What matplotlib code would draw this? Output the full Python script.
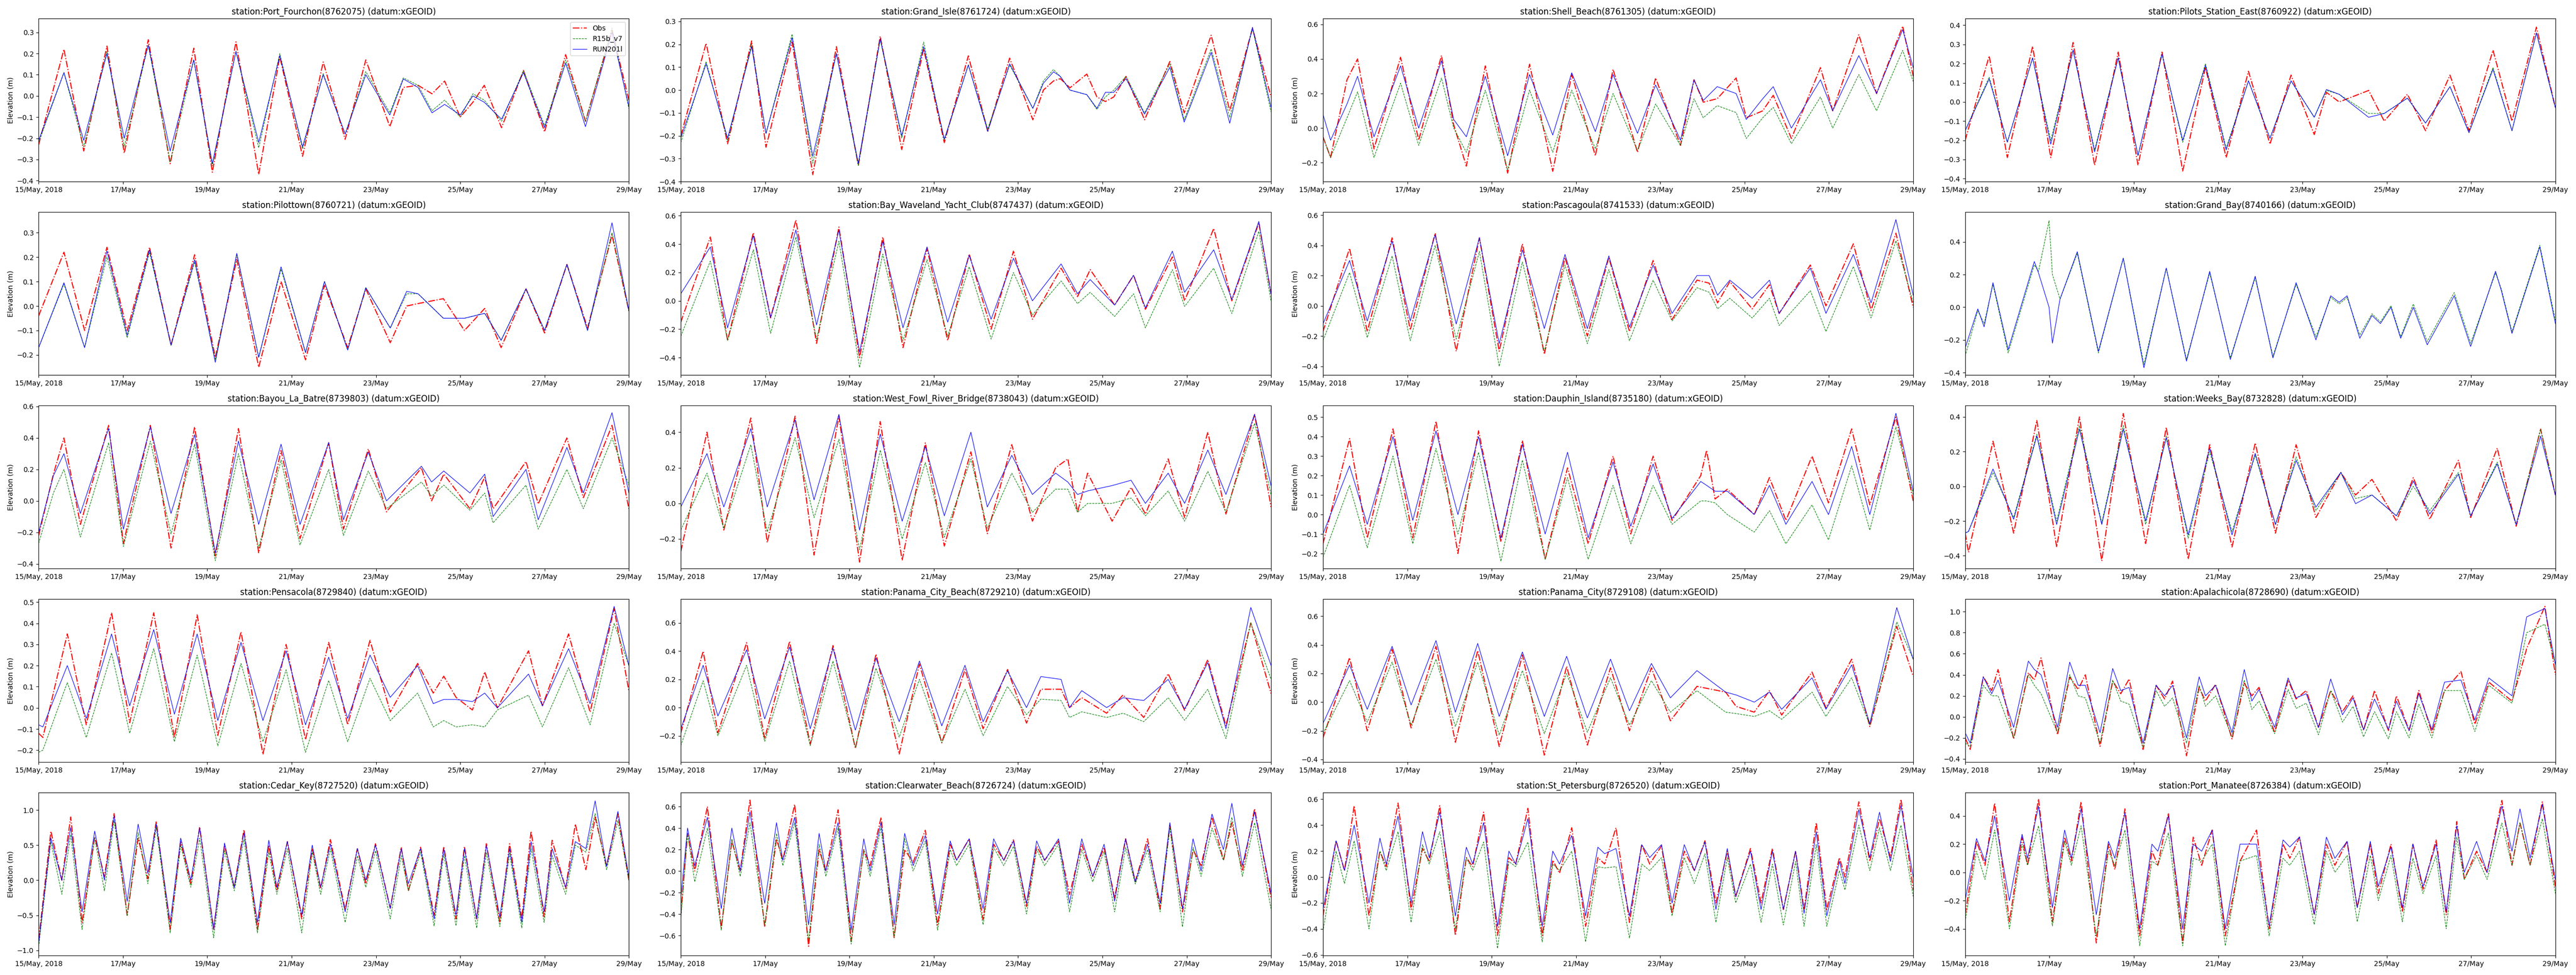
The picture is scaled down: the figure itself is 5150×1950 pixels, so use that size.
import numpy as np
import matplotlib
matplotlib.use('Agg')
import matplotlib.pyplot as plt
from matplotlib.ticker import MultipleLocator

# times in days after 15/May/2018 00:00, values in m
t_port_fourchon = [0, 0.6, 1.07, 1.62, 2.03, 2.6, 3.12, 3.68, 4.12, 4.68, 5.22, 5.72, 6.26, 6.75, 7.27, 7.76, 8.33, 8.65, 9.0, 9.33, 9.63, 10.0, 10.3, 10.57, 10.98, 11.5, 12.0, 12.5, 12.97, 13.6, 14.0]
obs_port_fourchon = [-0.23, 0.22, -0.26, 0.235, -0.27, 0.265, -0.32, 0.225, -0.36, 0.255, -0.37, 0.185, -0.285, 0.16, -0.205, 0.17, -0.145, 0.04, 0.05, 0.01, 0.07, -0.10, -0.03, 0.05, -0.15, 0.12, -0.17, 0.195, -0.12, 0.31, -0.02]
r15_port_fourchon = [-0.22, 0.11, -0.24, 0.21, -0.24, 0.24, -0.31, 0.17, -0.33, 0.21, -0.245, 0.20, -0.25, 0.105, -0.18, 0.115, -0.08, 0.085, 0.05, -0.07, -0.02, -0.10, 0.01, -0.02, -0.12, 0.12, -0.14, 0.17, -0.12, 0.32, -0.06]
run_port_fourchon = [-0.21, 0.11, -0.21, 0.20, -0.20, 0.24, -0.26, 0.17, -0.32, 0.21, -0.22, 0.19, -0.24, 0.10, -0.18, 0.10, -0.09, 0.08, 0.04, -0.08, -0.04, -0.09, 0.0, -0.03, -0.11, 0.11, -0.15, 0.155, -0.145, 0.30, -0.05]

t_grand_isle = [0, 0.6, 1.11, 1.68, 2.02, 2.64, 3.13, 3.69, 4.21, 4.73, 5.24, 5.76, 6.25, 6.82, 7.28, 7.8, 8.35, 8.6, 8.84, 9.0, 9.23, 9.63, 9.87, 10.07, 10.27, 10.56, 11.0, 11.6, 11.94, 12.58, 13.02, 13.56, 14.0]
obs_grand_isle = [-0.20, 0.205, -0.235, 0.215, -0.25, 0.21, -0.37, 0.19, -0.33, 0.235, -0.26, 0.18, -0.23, 0.15, -0.18, 0.14, -0.13, 0.0, 0.04, 0.05, 0.01, 0.07, -0.03, -0.05, -0.03, 0.06, -0.13, 0.125, -0.10, 0.24, -0.09, 0.27, -0.03]
r15_grand_isle = [-0.23, 0.125, -0.22, 0.20, -0.19, 0.245, -0.32, 0.16, -0.33, 0.22, -0.21, 0.21, -0.22, 0.11, -0.17, 0.11, -0.08, 0.04, 0.09, 0.06, 0.0, -0.02, -0.085, -0.03, 0.0, 0.06, -0.10, 0.115, -0.13, 0.18, -0.12, 0.27, -0.095]
run_grand_isle = [-0.21, 0.115, -0.21, 0.19, -0.19, 0.23, -0.29, 0.16, -0.32, 0.225, -0.20, 0.19, -0.215, 0.11, -0.18, 0.115, -0.08, 0.03, 0.08, 0.06, 0.0, -0.02, -0.08, -0.01, -0.01, 0.05, -0.105, 0.10, -0.14, 0.165, -0.145, 0.275, -0.075]

t_shell_beach = [0, 0.18, 0.57, 0.82, 1.21, 1.84, 2.27, 2.81, 3.1, 3.4, 3.85, 4.38, 4.9, 5.45, 5.9, 6.46, 6.88, 7.46, 7.89, 8.48, 8.8, 9.02, 9.35, 9.8, 10.04, 10.43, 10.68, 11.11, 11.8, 12.09, 12.71, 13.13, 13.75, 14.0]
obs_shell_beach = [-0.05, -0.17, 0.28, 0.40, -0.12, 0.41, -0.07, 0.42, 0.02, -0.22, 0.36, -0.26, 0.37, -0.25, 0.31, -0.16, 0.34, -0.14, 0.29, -0.10, 0.28, 0.15, 0.17, 0.29, 0.06, 0.10, 0.19, -0.06, 0.35, 0.10, 0.54, 0.20, 0.59, 0.30]
r15_shell_beach = [-0.05, -0.17, 0.06, 0.21, -0.17, 0.26, -0.10, 0.29, 0.0, -0.14, 0.22, -0.24, 0.22, -0.14, 0.22, -0.12, 0.20, -0.13, 0.14, -0.10, 0.17, 0.06, 0.13, 0.09, -0.06, 0.06, 0.12, -0.09, 0.18, 0.0, 0.31, 0.10, 0.45, 0.27]
run_shell_beach = [0.08, -0.07, 0.14, 0.30, -0.05, 0.36, 0.0, 0.39, 0.05, -0.05, 0.30, -0.16, 0.31, -0.04, 0.32, -0.02, 0.31, -0.03, 0.25, -0.07, 0.28, 0.16, 0.24, 0.20, 0.05, 0.17, 0.24, 0.0, 0.28, 0.10, 0.42, 0.20, 0.57, 0.35]

t_pilots_east = [0, 0.57, 1.0, 1.6, 2.03, 2.56, 3.07, 3.63, 4.1, 4.67, 5.16, 5.7, 6.19, 6.72, 7.23, 7.73, 8.28, 8.57, 8.87, 9.57, 9.94, 10.49, 10.92, 11.5, 11.95, 12.52, 12.97, 13.55, 14.0]
obs_pilots_east = [-0.20, 0.24, -0.29, 0.29, -0.29, 0.31, -0.33, 0.26, -0.33, 0.26, -0.36, 0.18, -0.29, 0.16, -0.22, 0.14, -0.17, 0.05, 0.0, 0.06, -0.10, 0.04, -0.15, 0.14, -0.15, 0.27, -0.10, 0.39, -0.03]
r15_pilots_east = [-0.15, 0.13, -0.21, 0.23, -0.20, 0.27, -0.25, 0.23, -0.28, 0.25, -0.21, 0.20, -0.24, 0.11, -0.19, 0.11, -0.08, 0.06, 0.04, -0.06, -0.06, 0.02, -0.11, 0.08, -0.16, 0.18, -0.15, 0.36, -0.03]
run_pilots_east = [-0.15, 0.12, -0.21, 0.23, -0.22, 0.27, -0.26, 0.23, -0.28, 0.25, -0.20, 0.19, -0.25, 0.11, -0.19, 0.11, -0.08, 0.065, 0.04, -0.08, -0.06, 0.02, -0.11, 0.08, -0.16, 0.17, -0.15, 0.36, -0.03]

t_pilottown = [0, 0.6, 1.09, 1.62, 2.1, 2.63, 3.14, 3.7, 4.19, 4.7, 5.22, 5.75, 6.33, 6.78, 7.33, 7.76, 8.34, 8.73, 9.0, 9.6, 10.1, 10.58, 10.97, 11.56, 12.0, 12.53, 13.02, 13.6, 14.0]
obs_pilottown = [-0.04, 0.22, -0.10, 0.24, -0.10, 0.24, -0.16, 0.21, -0.21, 0.19, -0.25, 0.10, -0.22, 0.085, -0.17, 0.07, -0.15, 0.0, 0.01, 0.03, -0.10, -0.01, -0.17, 0.07, -0.11, 0.17, -0.09, 0.29, -0.02]
r15_pilottown = [-0.17, 0.09, -0.17, 0.20, -0.13, 0.22, -0.16, 0.18, -0.22, 0.21, -0.21, 0.15, -0.19, 0.10, -0.18, 0.075, -0.09, 0.05, 0.05, -0.05, -0.05, -0.03, -0.14, 0.07, -0.10, 0.17, -0.10, 0.30, -0.02]
run_pilottown = [-0.17, 0.095, -0.17, 0.225, -0.12, 0.23, -0.16, 0.19, -0.23, 0.215, -0.21, 0.16, -0.19, 0.10, -0.18, 0.075, -0.09, 0.06, 0.05, -0.05, -0.05, -0.03, -0.14, 0.07, -0.10, 0.17, -0.10, 0.34, -0.02]

t_bay_waveland = [0, 0.7, 1.11, 1.72, 2.13, 2.73, 3.22, 3.75, 4.24, 4.79, 5.27, 5.84, 6.33, 6.84, 7.36, 7.89, 8.34, 9.02, 9.41, 9.71, 10.29, 10.74, 11.02, 11.66, 11.95, 12.64, 13.07, 13.71, 14.0]
obs_bay_waveland = [-0.15, 0.45, -0.28, 0.48, -0.12, 0.57, -0.30, 0.52, -0.40, 0.45, -0.33, 0.37, -0.28, 0.33, -0.20, 0.35, -0.13, 0.23, 0.03, 0.22, -0.03, 0.18, -0.06, 0.31, 0.0, 0.51, 0.0, 0.55, 0.05]
r15_bay_waveland = [-0.25, 0.28, -0.28, 0.36, -0.23, 0.45, -0.27, 0.42, -0.47, 0.33, -0.28, 0.29, -0.25, 0.24, -0.27, 0.20, -0.10, 0.14, -0.02, 0.06, -0.11, 0.05, -0.19, 0.22, -0.04, 0.23, -0.09, 0.49, 0.0]
run_bay_waveland = [0.05, 0.38, -0.19, 0.46, -0.12, 0.50, -0.17, 0.50, -0.36, 0.42, -0.19, 0.38, -0.15, 0.32, -0.13, 0.30, 0.0, 0.26, 0.05, 0.15, -0.03, 0.18, -0.05, 0.35, 0.06, 0.36, 0.01, 0.56, 0.05]

t_pascagoula = [0, 0.63, 1.05, 1.64, 2.07, 2.66, 3.16, 3.71, 4.18, 4.73, 5.25, 5.74, 6.27, 6.78, 7.27, 7.83, 8.28, 8.87, 9.16, 9.36, 9.65, 10.18, 10.59, 10.82, 11.56, 11.93, 12.58, 13.0, 13.59, 14.0]
obs_pascagoula = [-0.17, 0.38, -0.17, 0.45, -0.16, 0.48, -0.30, 0.45, -0.30, 0.41, -0.32, 0.32, -0.20, 0.32, -0.17, 0.30, -0.09, 0.17, 0.15, 0.02, 0.16, -0.02, 0.14, -0.05, 0.27, 0.0, 0.41, -0.03, 0.48, -0.01]
r15_pascagoula = [-0.23, 0.22, -0.21, 0.33, -0.23, 0.40, -0.22, 0.36, -0.40, 0.29, -0.30, 0.27, -0.25, 0.24, -0.23, 0.17, -0.10, 0.12, 0.09, -0.02, 0.05, -0.08, 0.05, -0.13, 0.10, -0.17, 0.26, -0.08, 0.43, 0.02]
run_pascagoula = [-0.12, 0.30, -0.10, 0.43, -0.10, 0.47, -0.12, 0.45, -0.25, 0.37, -0.15, 0.34, -0.15, 0.33, -0.14, 0.27, -0.05, 0.20, 0.20, 0.07, 0.17, 0.05, 0.17, -0.05, 0.25, -0.05, 0.34, 0.02, 0.57, 0.07]

# no observations at Grand_Bay
t_grand_bay = [0, 0.3, 0.45, 0.66, 1.02, 1.64, 1.74, 1.99, 2.07, 2.25, 2.66, 3.16, 3.75, 4.24, 4.77, 5.25, 5.8, 6.29, 6.88, 7.3, 7.85, 8.32, 8.67, 8.87, 9.06, 9.36, 9.65, 9.85, 10.1, 10.33, 10.63, 10.96, 11.6, 11.99, 12.58, 12.72, 12.97, 13.63, 14.0]
r15_grand_bay = [-0.30, -0.02, -0.10, 0.14, -0.28, 0.26, 0.22, 0.53, 0.20, 0.05, 0.33, -0.28, 0.30, -0.35, 0.24, -0.32, 0.21, -0.31, 0.18, -0.30, 0.14, -0.18, 0.06, 0.02, 0.06, -0.17, -0.04, -0.09, 0.01, -0.18, 0.02, -0.21, 0.09, -0.22, 0.21, 0.11, -0.15, 0.38, -0.08]
run_grand_bay = [-0.25, -0.01, -0.12, 0.15, -0.26, 0.28, 0.21, 0.0, -0.22, 0.05, 0.34, -0.27, 0.30, -0.37, 0.24, -0.33, 0.22, -0.32, 0.19, -0.31, 0.15, -0.20, 0.07, 0.03, 0.07, -0.19, -0.05, -0.10, 0.0, -0.19, 0.0, -0.23, 0.07, -0.24, 0.22, 0.10, -0.16, 0.37, -0.10]

t_bayou = [0, 0.35, 0.6, 0.99, 1.66, 2.01, 2.65, 3.14, 3.7, 4.19, 4.74, 5.22, 5.75, 6.2, 6.88, 7.23, 7.82, 8.25, 9.08, 9.32, 9.61, 10.23, 10.58, 10.78, 11.56, 11.85, 12.53, 12.92, 13.6, 14.0]
obs_bayou = [-0.22, 0.17, 0.40, -0.15, 0.48, -0.27, 0.48, -0.30, 0.47, -0.35, 0.46, -0.33, 0.32, -0.24, 0.37, -0.18, 0.33, -0.07, 0.21, 0.0, 0.17, -0.05, 0.15, -0.05, 0.25, -0.02, 0.40, 0.02, 0.48, -0.05]
r15_bayou = [-0.27, 0.05, 0.20, -0.23, 0.37, -0.29, 0.38, -0.21, 0.36, -0.38, 0.30, -0.30, 0.26, -0.28, 0.20, -0.22, 0.19, -0.05, 0.12, 0.03, 0.10, -0.06, 0.05, -0.14, 0.10, -0.18, 0.20, -0.05, 0.40, 0.10]
run_bayou = [-0.20, 0.16, 0.30, -0.08, 0.46, -0.18, 0.47, -0.08, 0.42, -0.33, 0.38, -0.15, 0.36, -0.15, 0.37, -0.12, 0.31, 0.0, 0.22, 0.12, 0.19, 0.05, 0.17, -0.10, 0.20, -0.12, 0.34, 0.05, 0.56, 0.05]

t_west_fowl = [0, 0.62, 1.02, 1.66, 2.05, 2.71, 3.16, 3.75, 4.24, 4.73, 5.25, 5.8, 6.25, 6.88, 7.27, 7.85, 8.34, 8.89, 9.18, 9.41, 9.65, 10.23, 10.68, 11.02, 11.56, 11.95, 12.5, 12.93, 13.61, 14.0]
obs_west_fowl = [-0.27, 0.40, -0.15, 0.48, -0.22, 0.49, -0.29, 0.49, -0.33, 0.46, -0.32, 0.34, -0.24, 0.29, -0.17, 0.33, -0.10, 0.20, 0.25, -0.05, 0.17, -0.10, 0.09, -0.06, 0.25, -0.08, 0.40, -0.06, 0.50, -0.02]
r15_west_fowl = [-0.15, 0.17, -0.14, 0.33, -0.16, 0.37, -0.08, 0.36, -0.26, 0.30, -0.20, 0.23, -0.19, 0.25, -0.14, 0.17, -0.05, 0.08, 0.08, -0.05, 0.0, 0.0, 0.03, -0.07, 0.07, -0.10, 0.18, -0.05, 0.45, 0.05]
run_west_fowl = [-0.02, 0.28, -0.02, 0.42, -0.02, 0.47, 0.02, 0.50, -0.15, 0.39, -0.10, 0.32, -0.07, 0.40, -0.02, 0.27, 0.05, 0.17, 0.12, 0.05, 0.07, 0.10, 0.13, 0.0, 0.17, 0.0, 0.30, 0.05, 0.50, 0.10]

t_dauphin = [0, 0.63, 1.05, 1.66, 2.13, 2.68, 3.2, 3.69, 4.22, 4.73, 5.27, 5.8, 6.29, 6.88, 7.3, 7.83, 8.28, 8.96, 9.1, 9.3, 9.59, 10.23, 10.59, 10.98, 11.6, 11.99, 12.54, 12.97, 13.59, 14.0]
obs_dauphin = [-0.15, 0.39, -0.12, 0.44, -0.12, 0.48, -0.20, 0.43, -0.14, 0.38, -0.23, 0.24, -0.15, 0.30, -0.10, 0.30, -0.03, 0.20, 0.33, 0.08, 0.13, 0.0, 0.19, -0.03, 0.30, 0.06, 0.44, 0.05, 0.50, 0.07]
r15_dauphin = [-0.22, 0.15, -0.17, 0.30, -0.15, 0.34, -0.10, 0.32, -0.24, 0.28, -0.23, 0.19, -0.23, 0.15, -0.15, 0.15, -0.05, 0.07, 0.07, 0.06, 0.0, -0.09, 0.02, -0.15, 0.05, -0.13, 0.25, -0.08, 0.45, 0.10]
run_dauphin = [-0.10, 0.25, -0.05, 0.40, -0.03, 0.43, 0.0, 0.40, -0.12, 0.36, -0.10, 0.32, -0.12, 0.27, -0.06, 0.26, -0.02, 0.17, 0.15, 0.12, 0.12, 0.0, 0.15, -0.05, 0.17, 0.0, 0.35, 0.0, 0.52, 0.12]

t_weeks_bay = [0, 0.08, 0.66, 1.15, 1.7, 2.17, 2.71, 3.24, 3.75, 4.28, 4.77, 5.29, 5.8, 6.33, 6.88, 7.36, 7.85, 8.32, 8.91, 9.26, 9.65, 10.23, 10.63, 11.02, 11.7, 11.99, 12.62, 13.07, 13.65, 14.0]
obs_weeks_bay = [-0.27, -0.38, 0.26, -0.27, 0.38, -0.35, 0.40, -0.43, 0.42, -0.33, 0.34, -0.42, 0.24, -0.35, 0.25, -0.27, 0.24, -0.18, 0.08, -0.05, 0.04, -0.20, 0.05, -0.19, 0.15, -0.18, 0.22, -0.23, 0.33, -0.05]
r15_weeks_bay = [-0.27, -0.26, 0.08, -0.18, 0.30, -0.20, 0.35, -0.21, 0.35, -0.22, 0.29, -0.30, 0.20, -0.26, 0.18, -0.22, 0.17, -0.14, 0.08, -0.07, -0.05, -0.17, 0.0, -0.14, 0.08, -0.17, 0.14, -0.22, 0.33, -0.05]
run_weeks_bay = [-0.27, -0.26, 0.10, -0.19, 0.29, -0.22, 0.33, -0.22, 0.33, -0.20, 0.28, -0.28, 0.22, -0.28, 0.19, -0.22, 0.15, -0.12, 0.08, -0.10, -0.05, -0.17, 0.03, -0.16, 0.07, -0.17, 0.13, -0.22, 0.29, -0.05]

t_pensacola = [0, 0.1, 0.68, 1.13, 1.73, 2.16, 2.73, 3.22, 3.76, 4.25, 4.8, 5.32, 5.87, 6.33, 6.88, 7.33, 7.86, 8.34, 8.99, 9.36, 9.61, 9.9, 10.29, 10.58, 10.88, 11.62, 11.95, 12.57, 13.08, 13.65, 14.0]
obs_pensacola = [-0.12, -0.14, 0.35, -0.08, 0.45, -0.07, 0.45, -0.14, 0.44, -0.13, 0.36, -0.22, 0.30, -0.15, 0.31, -0.08, 0.32, -0.02, 0.21, 0.07, 0.15, 0.05, -0.01, 0.17, 0.0, 0.27, 0.01, 0.35, -0.02, 0.47, 0.08]
r15_pensacola = [-0.21, -0.20, 0.12, -0.14, 0.26, -0.12, 0.28, -0.16, 0.25, -0.18, 0.21, -0.16, 0.18, -0.21, 0.13, -0.16, 0.14, -0.06, 0.07, -0.09, -0.06, -0.09, -0.08, -0.09, -0.01, 0.06, -0.09, 0.19, -0.08, 0.40, 0.20]
run_pensacola = [-0.08, -0.09, 0.20, -0.05, 0.35, 0.01, 0.37, -0.03, 0.35, -0.06, 0.31, -0.06, 0.27, -0.08, 0.24, -0.05, 0.25, 0.05, 0.20, 0.02, 0.04, 0.04, 0.03, 0.07, 0.0, 0.16, 0.01, 0.28, 0.02, 0.48, 0.20]

t_pc_beach = [0, 0.53, 0.88, 1.56, 1.99, 2.58, 3.07, 3.61, 4.14, 4.63, 5.18, 5.66, 6.19, 6.74, 7.17, 7.75, 8.2, 8.54, 9.02, 9.22, 9.51, 10.1, 10.49, 10.98, 11.56, 11.95, 12.5, 12.93, 13.52, 14.0]
obs_pc_beach = [-0.18, 0.40, -0.18, 0.46, -0.22, 0.47, -0.26, 0.44, -0.29, 0.38, -0.33, 0.31, -0.25, 0.27, -0.15, 0.27, -0.11, 0.13, 0.13, 0.0, 0.07, -0.04, 0.09, -0.07, 0.24, -0.02, 0.34, -0.13, 0.60, 0.10]
r15_pc_beach = [-0.27, 0.19, -0.20, 0.30, -0.24, 0.33, -0.27, 0.33, -0.28, 0.28, -0.21, 0.20, -0.25, 0.13, -0.20, 0.15, -0.05, 0.06, 0.05, -0.07, -0.03, -0.07, -0.04, -0.10, 0.07, -0.09, 0.13, -0.22, 0.60, 0.20]
run_pc_beach = [-0.15, 0.30, -0.06, 0.41, -0.08, 0.43, -0.15, 0.42, -0.16, 0.35, -0.10, 0.33, -0.13, 0.30, -0.10, 0.26, 0.0, 0.22, 0.20, 0.0, 0.12, 0.0, 0.07, 0.05, 0.20, -0.01, 0.32, -0.15, 0.71, 0.30]

t_panama_city = [0, 0.63, 1.05, 1.64, 2.09, 2.68, 3.14, 3.67, 4.18, 4.73, 5.25, 5.78, 6.27, 6.82, 7.27, 7.79, 8.24, 8.87, 9.55, 9.8, 10.23, 10.59, 10.88, 11.6, 11.93, 12.54, 12.97, 13.61, 14.0]
obs_panama_city = [-0.25, 0.31, -0.20, 0.37, -0.18, 0.39, -0.28, 0.36, -0.31, 0.33, -0.37, 0.25, -0.30, 0.24, -0.20, 0.24, -0.13, 0.11, 0.07, -0.03, -0.07, 0.08, -0.09, 0.21, -0.04, 0.30, -0.17, 0.53, 0.18]
r15_panama_city = [-0.22, 0.15, -0.14, 0.28, -0.16, 0.30, -0.17, 0.28, -0.23, 0.22, -0.22, 0.20, -0.21, 0.17, -0.16, 0.15, -0.07, 0.08, -0.07, -0.08, -0.10, -0.06, -0.12, 0.07, -0.10, 0.17, -0.16, 0.56, 0.30]
run_panama_city = [-0.15, 0.26, -0.05, 0.39, -0.02, 0.43, -0.07, 0.41, -0.10, 0.35, -0.10, 0.32, -0.11, 0.30, -0.06, 0.27, 0.03, 0.22, 0.07, 0.05, 0.0, 0.07, -0.05, 0.17, -0.05, 0.26, -0.15, 0.66, 0.30]

t_apalachicola = [0, 0.12, 0.43, 0.63, 0.78, 1.15, 1.5, 1.64, 1.8, 2.19, 2.48, 2.68, 2.85, 3.2, 3.5, 3.69, 3.89, 4.22, 4.53, 4.73, 4.92, 5.25, 5.55, 5.7, 5.94, 6.33, 6.62, 6.8, 6.97, 7.34, 7.66, 7.85, 8.09, 8.38, 8.67, 8.95, 9.2, 9.45, 9.71, 10.04, 10.23, 10.53, 10.76, 11.07, 11.37, 11.76, 12.09, 12.42, 12.97, 13.32, 13.75, 14.0]
obs_apalachicola = [-0.20, -0.31, 0.38, 0.25, 0.45, -0.21, 0.42, 0.35, 0.56, -0.17, 0.38, 0.26, 0.40, -0.28, 0.34, 0.22, 0.36, -0.31, 0.30, 0.17, 0.34, -0.37, 0.28, 0.15, 0.31, -0.21, 0.32, 0.20, 0.28, -0.15, 0.35, 0.17, 0.25, -0.10, 0.25, 0.05, 0.20, -0.13, 0.25, -0.13, 0.20, -0.13, 0.25, -0.15, 0.25, 0.43, -0.07, 0.33, 0.15, 0.65, 1.05, 0.40]
r15_apalachicola = [-0.25, -0.28, 0.30, 0.20, 0.20, -0.20, 0.40, 0.30, 0.22, -0.15, 0.40, 0.20, 0.18, -0.25, 0.35, 0.15, 0.12, -0.29, 0.25, 0.10, 0.18, -0.25, 0.30, 0.10, 0.20, -0.19, 0.35, 0.07, 0.15, -0.16, 0.26, 0.08, 0.13, -0.17, 0.25, -0.05, 0.10, -0.19, 0.05, -0.21, 0.05, -0.20, 0.12, -0.20, 0.25, 0.25, -0.14, 0.30, 0.13, 0.80, 0.88, 0.50]
run_apalachicola = [-0.15, -0.25, 0.38, 0.22, 0.35, -0.10, 0.53, 0.45, 0.40, -0.10, 0.52, 0.30, 0.30, -0.15, 0.46, 0.25, 0.28, -0.25, 0.30, 0.20, 0.30, -0.20, 0.38, 0.20, 0.30, -0.15, 0.45, 0.15, 0.26, -0.10, 0.37, 0.18, 0.22, -0.10, 0.36, 0.02, 0.18, -0.12, 0.17, -0.12, 0.15, -0.13, 0.22, -0.12, 0.33, 0.35, -0.03, 0.37, 0.20, 0.95, 1.03, 0.50]

t_cedar_key = [0, 0.29, 0.55, 0.76, 1.03, 1.33, 1.56, 1.79, 2.1, 2.36, 2.59, 2.79, 3.12, 3.37, 3.61, 3.82, 4.15, 4.41, 4.64, 4.87, 5.19, 5.46, 5.65, 5.9, 6.24, 6.49, 6.69, 6.92, 7.27, 7.56, 7.76, 7.99, 8.34, 8.6, 8.77, 9.06, 9.38, 9.61, 9.9, 10.1, 10.39, 10.62, 10.94, 11.17, 11.46, 11.68, 11.99, 12.18, 12.5, 12.73, 12.98, 13.2, 13.47, 13.74, 14.0]
obs_cedar_key = [-0.85, 0.70, 0.0, 0.90, -0.60, 0.62, 0.05, 0.95, -0.50, 0.60, 0.02, 0.84, -0.70, 0.55, -0.05, 0.76, -0.70, 0.50, -0.10, 0.72, -0.70, 0.50, -0.15, 0.55, -0.55, 0.45, -0.12, 0.58, -0.42, 0.45, -0.05, 0.52, -0.40, 0.47, -0.15, 0.47, -0.50, 0.48, -0.55, 0.48, -0.55, 0.52, -0.60, 0.52, -0.55, 0.70, -0.52, 0.57, -0.12, 0.80, 0.15, 0.90, 0.20, 0.95, 0.0]
r15_cedar_key = [-0.95, 0.55, -0.20, 0.65, -0.70, 0.60, -0.15, 0.85, -0.50, 0.68, -0.05, 0.75, -0.75, 0.50, -0.10, 0.60, -0.82, 0.42, -0.15, 0.58, -0.75, 0.40, -0.20, 0.45, -0.75, 0.40, -0.20, 0.45, -0.60, 0.35, -0.10, 0.42, -0.55, 0.35, -0.15, 0.40, -0.65, 0.37, -0.65, 0.35, -0.68, 0.40, -0.66, 0.38, -0.68, 0.45, -0.60, 0.35, -0.20, 0.50, 0.40, 0.95, 0.15, 0.85, 0.0]
run_cedar_key = [-0.90, 0.60, 0.0, 0.75, -0.45, 0.70, 0.0, 0.92, -0.30, 0.80, 0.10, 0.80, -0.60, 0.60, 0.0, 0.75, -0.70, 0.53, -0.10, 0.68, -0.60, 0.57, -0.10, 0.55, -0.50, 0.50, -0.10, 0.52, -0.45, 0.45, 0.0, 0.50, -0.40, 0.45, -0.05, 0.45, -0.55, 0.45, -0.50, 0.45, -0.55, 0.50, -0.52, 0.45, -0.60, 0.55, -0.45, 0.45, -0.10, 0.55, 0.45, 1.13, 0.20, 0.98, 0.05]

t_clearwater = [0, 0.16, 0.33, 0.63, 0.96, 1.21, 1.41, 1.64, 1.99, 2.27, 2.42, 2.7, 3.03, 3.28, 3.44, 3.73, 4.04, 4.34, 4.49, 4.75, 5.06, 5.31, 5.51, 5.8, 6.09, 6.39, 6.54, 6.84, 7.17, 7.42, 7.66, 7.89, 8.2, 8.44, 8.63, 8.96, 9.22, 9.51, 9.77, 10.04, 10.29, 10.55, 10.78, 11.07, 11.37, 11.6, 11.9, 12.15, 12.34, 12.6, 12.87, 13.07, 13.32, 13.61, 14.0]
obs_clearwater = [-0.40, 0.35, 0.0, 0.60, -0.53, 0.28, 0.0, 0.66, -0.52, 0.30, 0.10, 0.62, -0.70, 0.20, 0.0, 0.57, -0.65, 0.20, 0.05, 0.50, -0.62, 0.20, 0.08, 0.38, -0.50, 0.25, 0.10, 0.30, -0.45, 0.25, 0.10, 0.29, -0.33, 0.23, 0.10, 0.28, -0.22, 0.25, -0.05, 0.22, -0.25, 0.30, -0.10, 0.30, -0.35, 0.43, -0.38, 0.20, 0.05, 0.50, 0.10, 0.45, 0.0, 0.58, -0.25]
r15_clearwater = [-0.45, 0.35, -0.10, 0.40, -0.55, 0.30, -0.05, 0.45, -0.50, 0.35, 0.05, 0.45, -0.65, 0.25, -0.05, 0.40, -0.68, 0.20, -0.05, 0.40, -0.62, 0.30, 0.0, 0.28, -0.55, 0.20, 0.05, 0.25, -0.50, 0.22, 0.05, 0.23, -0.40, 0.20, 0.05, 0.25, -0.38, 0.20, -0.10, 0.18, -0.38, 0.22, -0.12, 0.20, -0.38, 0.40, -0.52, 0.22, -0.05, 0.40, 0.10, 0.50, -0.05, 0.45, -0.35]
run_clearwater = [-0.25, 0.40, 0.05, 0.50, -0.35, 0.40, 0.0, 0.55, -0.30, 0.45, 0.10, 0.50, -0.50, 0.35, 0.0, 0.45, -0.55, 0.30, 0.0, 0.45, -0.50, 0.35, 0.05, 0.33, -0.40, 0.28, 0.10, 0.30, -0.35, 0.30, 0.10, 0.28, -0.30, 0.28, 0.10, 0.30, -0.30, 0.30, -0.05, 0.25, -0.28, 0.30, -0.10, 0.25, -0.30, 0.45, -0.35, 0.30, 0.0, 0.53, 0.20, 0.63, 0.05, 0.55, -0.20]

t_st_pete = [0, 0.31, 0.51, 0.74, 1.09, 1.35, 1.5, 1.78, 2.09, 2.36, 2.52, 2.77, 3.14, 3.4, 3.55, 3.81, 4.14, 4.41, 4.57, 4.86, 5.2, 5.45, 5.61, 5.9, 6.23, 6.52, 6.68, 6.95, 7.27, 7.56, 7.75, 8.03, 8.28, 8.57, 8.81, 9.06, 9.32, 9.59, 9.79, 10.14, 10.39, 10.66, 10.92, 11.21, 11.41, 11.7, 11.95, 12.25, 12.38, 12.71, 12.97, 13.2, 13.46, 13.71, 14.0]
obs_st_pete = [-0.30, 0.28, 0.05, 0.55, -0.30, 0.20, 0.08, 0.57, -0.25, 0.22, 0.12, 0.55, -0.45, 0.15, 0.08, 0.50, -0.45, 0.15, 0.10, 0.53, -0.45, 0.13, 0.03, 0.38, -0.38, 0.15, 0.10, 0.38, -0.35, 0.25, 0.10, 0.24, -0.28, 0.20, 0.05, 0.28, -0.20, 0.20, -0.15, 0.22, -0.20, 0.22, -0.25, 0.20, -0.25, 0.42, -0.25, 0.15, 0.0, 0.58, 0.12, 0.45, 0.15, 0.60, -0.10]
r15_st_pete = [-0.42, 0.20, -0.05, 0.28, -0.40, 0.20, 0.05, 0.35, -0.35, 0.25, 0.10, 0.35, -0.40, 0.15, 0.05, 0.27, -0.55, 0.12, 0.08, 0.27, -0.50, 0.10, 0.05, 0.20, -0.50, 0.08, 0.07, 0.08, -0.47, 0.10, 0.05, 0.15, -0.30, 0.15, -0.05, 0.18, -0.35, 0.15, -0.20, 0.10, -0.35, 0.10, -0.37, 0.12, -0.38, 0.25, -0.38, 0.05, -0.10, 0.40, 0.05, 0.38, 0.05, 0.40, -0.15]
run_st_pete = [-0.25, 0.28, 0.05, 0.40, -0.20, 0.30, 0.10, 0.47, -0.20, 0.35, 0.15, 0.50, -0.30, 0.23, 0.10, 0.42, -0.38, 0.20, 0.10, 0.45, -0.38, 0.20, 0.10, 0.32, -0.30, 0.23, 0.18, 0.22, -0.30, 0.25, 0.15, 0.25, -0.20, 0.25, 0.05, 0.27, -0.25, 0.22, -0.15, 0.20, -0.25, 0.20, -0.25, 0.20, -0.28, 0.35, -0.30, 0.12, -0.05, 0.52, 0.15, 0.50, 0.12, 0.55, 0.0]

t_port_manatee = [0, 0.27, 0.47, 0.7, 1.05, 1.35, 1.48, 1.74, 2.07, 2.36, 2.52, 2.75, 3.11, 3.4, 3.55, 3.79, 4.14, 4.43, 4.57, 4.82, 5.16, 5.41, 5.61, 5.86, 6.17, 6.52, 6.91, 7.21, 7.54, 7.7, 7.93, 8.28, 8.57, 8.77, 9.06, 9.3, 9.61, 9.8, 10.1, 10.37, 10.62, 10.86, 11.17, 11.41, 11.66, 11.84, 12.13, 12.38, 12.73, 12.97, 13.16, 13.4, 13.69, 14.0]
obs_port_manatee = [-0.30, 0.22, 0.05, 0.49, -0.35, 0.25, 0.05, 0.52, -0.35, 0.25, 0.08, 0.50, -0.50, 0.20, 0.02, 0.45, -0.45, 0.15, 0.05, 0.42, -0.50, 0.25, 0.05, 0.30, -0.45, 0.08, 0.30, -0.40, 0.20, 0.10, 0.25, -0.30, 0.20, 0.05, 0.22, -0.25, 0.20, -0.15, 0.20, -0.28, 0.20, -0.12, 0.23, -0.30, 0.36, -0.05, 0.15, 0.0, 0.51, 0.05, 0.35, 0.05, 0.50, -0.10]
r15_port_manatee = [-0.35, 0.15, -0.05, 0.30, -0.40, 0.20, 0.05, 0.33, -0.38, 0.22, 0.05, 0.33, -0.45, 0.15, 0.05, 0.30, -0.52, 0.08, 0.05, 0.28, -0.52, 0.10, 0.08, 0.20, -0.52, 0.08, 0.12, -0.45, 0.10, 0.05, 0.15, -0.37, 0.15, 0.0, 0.12, -0.35, 0.12, -0.20, 0.12, -0.35, 0.10, -0.15, 0.12, -0.40, 0.25, -0.05, 0.12, -0.05, 0.35, 0.05, 0.35, 0.05, 0.38, -0.15]
run_port_manatee = [-0.20, 0.24, 0.08, 0.40, -0.20, 0.27, 0.10, 0.47, -0.25, 0.30, 0.10, 0.45, -0.30, 0.22, 0.10, 0.42, -0.40, 0.20, 0.15, 0.40, -0.40, 0.20, 0.15, 0.30, -0.40, 0.20, 0.20, -0.38, 0.23, 0.18, 0.25, -0.30, 0.25, 0.10, 0.22, -0.25, 0.22, -0.10, 0.18, -0.25, 0.20, -0.10, 0.20, -0.28, 0.33, 0.0, 0.22, 0.0, 0.47, 0.15, 0.45, 0.10, 0.48, -0.05]

titles = [
    'station:Port_Fourchon(8762075) (datum:xGEOID)', 'station:Grand_Isle(8761724) (datum:xGEOID)',
    'station:Shell_Beach(8761305) (datum:xGEOID)', 'station:Pilots_Station_East(8760922) (datum:xGEOID)',
    'station:Pilottown(8760721) (datum:xGEOID)', 'station:Bay_Waveland_Yacht_Club(8747437) (datum:xGEOID)',
    'station:Pascagoula(8741533) (datum:xGEOID)', 'station:Grand_Bay(8740166) (datum:xGEOID)',
    'station:Bayou_La_Batre(8739803) (datum:xGEOID)', 'station:West_Fowl_River_Bridge(8738043) (datum:xGEOID)',
    'station:Dauphin_Island(8735180) (datum:xGEOID)', 'station:Weeks_Bay(8732828) (datum:xGEOID)',
    'station:Pensacola(8729840) (datum:xGEOID)', 'station:Panama_City_Beach(8729210) (datum:xGEOID)',
    'station:Panama_City(8729108) (datum:xGEOID)', 'station:Apalachicola(8728690) (datum:xGEOID)',
    'station:Cedar_Key(8727520) (datum:xGEOID)', 'station:Clearwater_Beach(8726724) (datum:xGEOID)',
    'station:St_Petersburg(8726520) (datum:xGEOID)', 'station:Port_Manatee(8726384) (datum:xGEOID)',
]

panels = [
    (t_port_fourchon, obs_port_fourchon, r15_port_fourchon, run_port_fourchon),
    (t_grand_isle, obs_grand_isle, r15_grand_isle, run_grand_isle),
    (t_shell_beach, obs_shell_beach, r15_shell_beach, run_shell_beach),
    (t_pilots_east, obs_pilots_east, r15_pilots_east, run_pilots_east),
    (t_pilottown, obs_pilottown, r15_pilottown, run_pilottown),
    (t_bay_waveland, obs_bay_waveland, r15_bay_waveland, run_bay_waveland),
    (t_pascagoula, obs_pascagoula, r15_pascagoula, run_pascagoula),
    (t_grand_bay, None, r15_grand_bay, run_grand_bay),
    (t_bayou, obs_bayou, r15_bayou, run_bayou),
    (t_west_fowl, obs_west_fowl, r15_west_fowl, run_west_fowl),
    (t_dauphin, obs_dauphin, r15_dauphin, run_dauphin),
    (t_weeks_bay, obs_weeks_bay, r15_weeks_bay, run_weeks_bay),
    (t_pensacola, obs_pensacola, r15_pensacola, run_pensacola),
    (t_pc_beach, obs_pc_beach, r15_pc_beach, run_pc_beach),
    (t_panama_city, obs_panama_city, r15_panama_city, run_panama_city),
    (t_apalachicola, obs_apalachicola, r15_apalachicola, run_apalachicola),
    (t_cedar_key, obs_cedar_key, r15_cedar_key, run_cedar_key),
    (t_clearwater, obs_clearwater, r15_clearwater, run_clearwater),
    (t_st_pete, obs_st_pete, r15_st_pete, run_st_pete),
    (t_port_manatee, obs_port_manatee, r15_port_manatee, run_port_manatee),
]

# axis ranges and y tick step per panel
ylims = [(-0.404, 0.365), (-0.40, 0.313), (-0.309, 0.634), (-0.415, 0.435),
         (-0.282, 0.384), (-0.523, 0.626), (-0.457, 0.62), (-0.415, 0.583),
         (-0.43, 0.606), (-0.366, 0.55), (-0.277, 0.56), (-0.474, 0.466),
         (-0.256, 0.515), (-0.386, 0.77), (-0.418, 0.72), (-0.429, 1.12),
         (-1.072, 1.25), (-0.786, 0.731), (-0.605, 0.652), (-0.589, 0.566)]
ysteps = [0.1, 0.1, 0.2, 0.1,
          0.1, 0.2, 0.2, 0.2,
          0.2, 0.2, 0.1, 0.2,
          0.1, 0.2, 0.2, 0.2,
          0.5, 0.2, 0.2, 0.2]

tick_days = [0, 2, 4, 6, 8, 10, 12, 14]
tick_labels = ['15/May, 2018', '17/May', '19/May', '21/May', '23/May', '25/May', '27/May', '29/May']

start = np.datetime64('2018-05-15T00:00:00')


def to_time(days):
    return start + (np.asarray(days, dtype=float) * 86400).astype('timedelta64[s]')


fig, axes = plt.subplots(5, 4, figsize=(51.5, 19.5), dpi=100)
fig.subplots_adjust(left=0.015, right=0.992, top=0.981, bottom=0.02, wspace=0.088, hspace=0.187)

for i, ax in enumerate(axes.flat):
    t, obs, r15, run = panels[i]
    x = to_time(t)
    if obs is not None:
        ax.plot(x, obs, color='red', linestyle='-.', linewidth=1.5, label='Obs')
    ax.plot(x, r15, color='green', linestyle='--', linewidth=0.8, label='R15b_v7')
    ax.plot(x, run, color='blue', linestyle='-', linewidth=0.8, label='RUN201l')
    ax.set_title(titles[i])
    ax.set_xlim(to_time(0), to_time(14))
    ax.set_xticks(to_time(tick_days))
    ax.set_xticklabels(tick_labels)
    ax.set_ylim(*ylims[i])
    ax.yaxis.set_major_locator(MultipleLocator(ysteps[i]))
    if i % 4 in (0, 2):
        ax.set_ylabel('Elevation (m)')
    if i == 0:
        ax.legend(loc='upper right')

fig.savefig('out.png')
